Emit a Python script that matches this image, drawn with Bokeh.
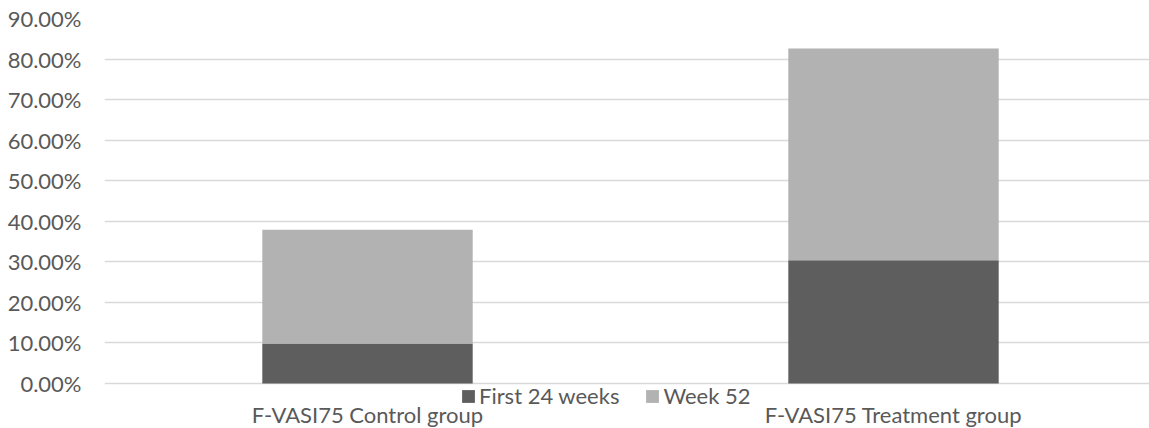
from bokeh.plotting import figure
from bokeh.models import (ColumnDataSource, Range1d, FixedTicker, NumeralTickFormatter,
                          Legend, LegendItem)
from bokeh.core.properties import value
from bokeh.embed import file_html
from bokeh.resources import INLINE

# ---- data ----
categories = ["F-VASI75 Control group", "F-VASI75 Treatment group"]
series_names = ["First 24 weeks", "Week 52"]
first_24_weeks = [0.0985, 0.304]
week_52 = [0.2805, 0.522]
y_ticks = [0.0, 0.1, 0.2, 0.3, 0.4, 0.5, 0.6, 0.7, 0.8, 0.9]

colors = ["#5e5e5e", "#b2b2b2"]
FONT = "Lato"
TEXT = "#595959"

xs = [i + 0.5 for i in range(len(categories))]
src = ColumnDataSource(dict(x=xs, first=first_24_weeks, week52=week_52, label=categories,
                            base=[0.0] * len(categories)))

# frame extends below the 0% line to hold the category labels and legend
p = figure(width=1149, height=428, output_backend="svg", toolbar_location=None,
           x_range=Range1d(0, 1.9867), y_range=Range1d(-0.1108, 0.9),
           min_border_left=104, min_border_right=0, min_border_top=18,
           min_border_bottom=0)
p.outline_line_color = None
p.background_fill_color = "white"
p.border_fill_color = "white"
p.xaxis.visible = False

r = p.vbar_stack(["first", "week52"], x="x", width=0.4, source=src,
                 color=colors, line_color=None)

p.xgrid.grid_line_color = None
p.ygrid.grid_line_color = "#d9d9d9"
p.ygrid.grid_line_width = 1.5
p.ygrid.ticker = FixedTicker(ticks=y_ticks)
p.ygrid.level = "underlay"

ya = p.yaxis[0]
ya.ticker = FixedTicker(ticks=y_ticks)
ya.formatter = NumeralTickFormatter(format="0.00%")
ya.axis_line_color = None
ya.major_tick_line_color = None
ya.minor_tick_line_color = None
ya.major_tick_out = 0
ya.major_tick_in = 0
ya.major_label_standoff = 23
ya.major_label_text_font = FONT
ya.major_label_text_font_size = "22px"
ya.major_label_text_color = TEXT

# category labels under the 0% line
p.text(x="x", y="base", text="label", source=src, text_align="center",
       text_baseline="alphabetic", y_offset=31, text_font=value(FONT),
       text_font_size="22px", text_color=TEXT)

legend = Legend(items=[LegendItem(label=n, renderers=[rr]) for n, rr in zip(series_names, r)],
                location=(356, 19), orientation="horizontal",
                glyph_width=16, glyph_height=16, label_standoff=3, spacing=25,
                padding=0, margin=0, border_line_color=None, background_fill_alpha=0,
                label_text_font=FONT, label_text_font_size="22px", label_text_color=TEXT,
                label_height=14)
p.add_layout(legend, "center")

open("out.html", "w").write(file_html(p, INLINE))
